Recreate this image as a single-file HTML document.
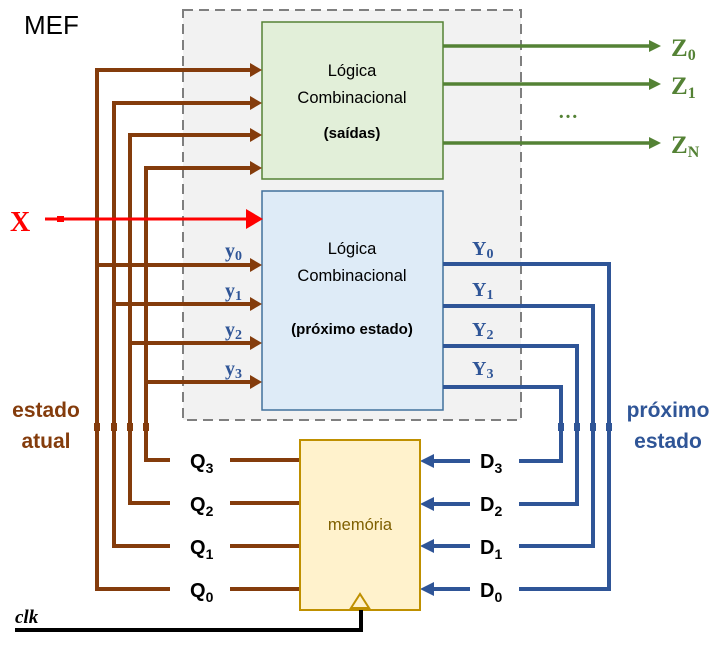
<!DOCTYPE html>
<html><head><meta charset="utf-8"><style>
html,body{margin:0;padding:0;background:#fff;}
svg{display:block;}
</style></head><body>
<svg width="727" height="645" viewBox="0 0 727 645" xmlns="http://www.w3.org/2000/svg">
<text x="24" y="34" font-family="Liberation Sans, sans-serif" font-size="26" fill="#000">MEF</text>
<rect x="183" y="10" width="338" height="410" fill="#f2f2f2" stroke="#7f7f7f" stroke-width="2" stroke-dasharray="10,6"/>
<rect x="262" y="22" width="181" height="157" fill="#e2efd9" stroke="#548235" stroke-width="1.5"/>
<rect x="262" y="191" width="181" height="219" fill="#deebf7" stroke="#41719c" stroke-width="1.5"/>
<g font-family="Liberation Sans, sans-serif" font-size="16.5" fill="#000" text-anchor="middle">
<text x="352" y="76">Lógica</text>
<text x="352" y="103">Combinacional</text>
<text x="352" y="138" font-weight="bold" font-size="15">(saídas)</text>
<text x="352" y="254">Lógica</text>
<text x="352" y="281">Combinacional</text>
<text x="352" y="334" font-weight="bold" font-size="15">(próximo estado)</text>
</g>
<!-- brown -->
<g stroke="#843c0c" stroke-width="4" fill="none">
<path d="M258,70 H97 V589 H170"/>
<path d="M258,103 H114 V546 H170"/>
<path d="M258,135 H130 V503 H170"/>
<path d="M258,168 H146 V460 H170"/>
<path d="M97,265 H258"/><path d="M114,304 H258"/><path d="M130,343 H258"/><path d="M146,382 H258"/>
<path d="M230,460 H300 M230,503 H300 M230,546 H300 M230,589 H300"/>
</g>
<g fill="#843c0c"><polygon points="250,63 262,70 250,77"/><polygon points="250,96 262,103 250,110"/><polygon points="250,128 262,135 250,142"/><polygon points="250,161 262,168 250,175"/>
<polygon points="250,258 262,265 250,272"/><polygon points="250,297 262,304 250,311"/><polygon points="250,336 262,343 250,350"/><polygon points="250,375 262,382 250,389"/>
<rect x="94" y="423" width="6" height="8"/><rect x="111" y="423" width="6" height="8"/><rect x="127" y="423" width="6" height="8"/><rect x="143" y="423" width="6" height="8"/></g>
<!-- red X -->
<line x1="45" y1="219" x2="246" y2="219" stroke="#ff0000" stroke-width="3"/>
<rect x="57" y="216" width="7" height="6" fill="#ff0000"/>
<polygon points="246,209 263,219 246,229" fill="#ff0000"/>
<text x="10" y="231" font-family="Liberation Serif, serif" font-weight="bold" font-size="28" fill="#ff0000">X</text>
<!-- green outputs -->
<g stroke="#548235" stroke-width="3.5"><line x1="443" y1="46" x2="652" y2="46"/><line x1="443" y1="84" x2="652" y2="84"/><line x1="443" y1="143" x2="652" y2="143"/></g>
<g fill="#548235"><polygon points="649,40 661,46 649,52"/><polygon points="649,78 661,84 649,90"/><polygon points="649,137 661,143 649,149"/></g>
<g font-family="Liberation Serif, serif" font-weight="bold" fill="#548235">
<text x="671" y="56" font-size="25">Z<tspan font-size="16" dy="4">0</tspan></text>
<text x="671" y="94" font-size="25">Z<tspan font-size="16" dy="4">1</tspan></text>
<text x="671" y="153" font-size="25">Z<tspan font-size="16" dy="4">N</tspan></text>
<text x="558" y="118" font-size="20">…</text>
</g>
<!-- y labels -->
<g font-family="Liberation Serif, serif" font-weight="bold" fill="#2f5597" font-size="20">
<text x="225" y="257">y<tspan font-size="14" dy="3">0</tspan></text>
<text x="225" y="297">y<tspan font-size="14" dy="3">1</tspan></text>
<text x="225" y="336">y<tspan font-size="14" dy="3">2</tspan></text>
<text x="225" y="375">y<tspan font-size="14" dy="3">3</tspan></text>
<text x="472" y="255">Y<tspan font-size="14" dy="3">0</tspan></text>
<text x="472" y="296">Y<tspan font-size="14" dy="3">1</tspan></text>
<text x="472" y="336">Y<tspan font-size="14" dy="3">2</tspan></text>
<text x="472" y="375">Y<tspan font-size="14" dy="3">3</tspan></text>
</g>
<!-- blue -->
<g stroke="#2f5597" stroke-width="4" fill="none">
<path d="M443,264 H609 V589 H519"/>
<path d="M443,306 H593 V546 H519"/>
<path d="M443,346 H577 V504 H519"/>
<path d="M443,387 H561 V461 H519"/>
<path d="M470,461 H430 M470,504 H430 M470,546 H430 M470,589 H430"/>
</g>
<g fill="#2f5597"><polygon points="434,454 420,461 434,468"/><polygon points="434,497 420,504 434,511"/><polygon points="434,539 420,546 434,553"/><polygon points="434,582 420,589 434,596"/>
<rect x="558" y="423" width="6" height="8"/><rect x="574" y="423" width="6" height="8"/><rect x="590" y="423" width="6" height="8"/><rect x="606" y="423" width="6" height="8"/></g>
<!-- memory -->
<rect x="300" y="440" width="120" height="170" fill="#fff2cc" stroke="#bf9000" stroke-width="2"/>
<text x="360" y="530" text-anchor="middle" font-family="Liberation Sans, sans-serif" font-size="16.5" fill="#7f6000">memória</text>
<polygon points="351,608 360,594 369,608" fill="#fff2cc" stroke="#bf9000" stroke-width="2"/>
<path d="M15,630 H361 V610" stroke="#000" stroke-width="4" fill="none"/>
<text x="15" y="623" font-family="Liberation Serif, serif" font-style="italic" font-weight="bold" font-size="19">clk</text>
<g font-family="Liberation Sans, sans-serif" font-weight="bold" fill="#000" font-size="20">
<text x="190" y="468">Q<tspan font-size="14" dy="5">3</tspan></text>
<text x="190" y="511">Q<tspan font-size="14" dy="5">2</tspan></text>
<text x="190" y="554">Q<tspan font-size="14" dy="5">1</tspan></text>
<text x="190" y="597">Q<tspan font-size="14" dy="5">0</tspan></text>
<text x="480" y="468">D<tspan font-size="14" dy="5">3</tspan></text>
<text x="480" y="511">D<tspan font-size="14" dy="5">2</tspan></text>
<text x="480" y="554">D<tspan font-size="14" dy="5">1</tspan></text>
<text x="480" y="597">D<tspan font-size="14" dy="5">0</tspan></text>
</g>
<g font-family="Liberation Sans, sans-serif" font-weight="bold" font-size="21" text-anchor="middle">
<text x="46" y="417" fill="#843c0c">estado</text>
<text x="46" y="448" fill="#843c0c">atual</text>
<text x="668" y="417" fill="#2f5597">próximo</text>
<text x="668" y="448" fill="#2f5597">estado</text>
</g>
</svg>
</body></html>
